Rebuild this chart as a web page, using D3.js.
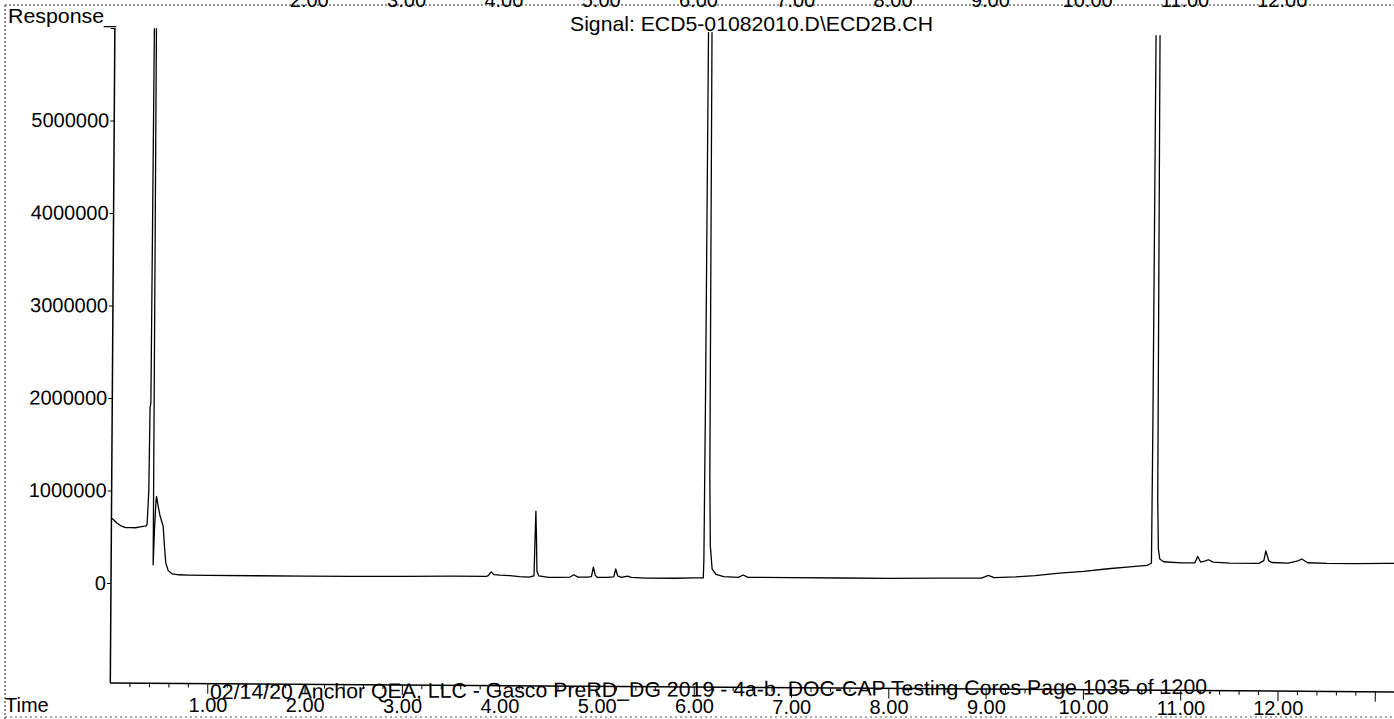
<!DOCTYPE html>
<html>
<head>
<meta charset="utf-8">
<script src="https://cdn.jsdelivr.net/npm/d3@7"></script>
<style>
  html, body { margin: 0; padding: 0; background: #fff; }
  svg { display: block; }
  text { font-family: "Liberation Sans", Arial, sans-serif; fill: #000; }
</style>
</head>
<body>
<script>
// ---- data ----
const timeMin = [
  0.005, 0.03, 0.06, 0.10, 0.15, 0.20, 0.25, 0.30, 0.36, 0.37, 0.385, 0.392, 0.40, 0.41, 0.43,
  0.435, 0.445, 0.46, 0.465, 0.48, 0.50, 0.52, 0.535, 0.55, 0.565, 0.59, 0.63, 0.70, 0.80,
  1.0, 1.5, 2.0, 2.5, 3.0, 3.5, 3.86, 3.88, 3.91, 3.94, 4.0, 4.1, 4.2, 4.3,
  4.35, 4.358, 4.365, 4.372, 4.38, 4.40, 4.5, 4.6, 4.72, 4.76, 4.80,
  4.9, 4.94, 4.96, 4.98, 5.0, 5.10, 5.17, 5.19, 5.21, 5.25, 5.31, 5.35,
  5.5, 5.8, 6.0, 6.09, 6.095, 6.10, 6.105, 6.14, 6.15, 6.16, 6.18, 6.22, 6.30,
  6.45, 6.50, 6.55, 7.0, 7.5, 8.0, 8.5, 8.95, 9.02, 9.08, 9.3, 9.5, 9.75,
  10.0, 10.25, 10.5, 10.65, 10.69, 10.695, 10.70, 10.705, 10.745, 10.755, 10.765, 10.78, 10.82,
  11.0, 11.14, 11.17, 11.20, 11.24, 11.28, 11.33, 11.5, 11.8, 11.85, 11.87, 11.90, 11.93,
  12.1, 12.2, 12.24, 12.3, 12.5, 12.8, 13.1, 13.19
];
const response = [
  700000, 680000, 650000, 620000, 600000, 600000, 600000, 610000, 620000, 640000, 1000000, 1900000, 1950000, 6300000, 6300000,
  200000, 550000, 900000, 940000, 850000, 740000, 670000, 620000, 400000, 220000, 140000, 105000, 95000, 92000,
  90000, 90000, 90000, 90000, 95000, 100000, 100000, 110000, 150000, 120000, 115000, 110000, 100000, 95000,
  110000, 500000, 810000, 550000, 160000, 110000, 95000, 95000, 100000, 125000, 100000,
  100000, 105000, 210000, 120000, 100000, 100000, 105000, 190000, 115000, 100000, 115000, 100000,
  95000, 95000, 100000, 100000, 300000, 2000000, 6300000, 6300000, 1200000, 450000, 200000, 140000, 115000,
  110000, 135000, 110000, 110000, 110000, 110000, 115000, 120000, 150000, 125000, 135000, 150000, 180000,
  200000, 230000, 255000, 270000, 290000, 300000, 1800000, 6300000, 6300000, 1000000, 450000, 340000, 310000,
  300000, 300000, 370000, 310000, 320000, 335000, 310000, 300000, 300000, 330000, 435000, 330000, 310000,
  305000, 330000, 350000, 310000, 305000, 305000, 310000, 310000
];
const yTickValues = [0, 1000000, 2000000, 3000000, 4000000, 5000000, 6000000];
const yTickLabels = ["0", "1000000", "2000000", "3000000", "4000000", "5000000", ""];
const xMajorTicks = [1, 2, 3, 4, 5, 6, 7, 8, 9, 10, 11, 12, 13];
const xLabelTimes = [1, 2, 3, 4, 5, 6, 7, 8, 9, 10, 11, 12];
const xTickLabels = ["1.00", "2.00", "3.00", "4.00", "5.00", "6.00", "7.00", "8.00", "9.00", "10.00", "11.00", "12.00"];
const topCutTimes = [2, 3, 4, 5, 6, 7, 8, 9, 10, 11, 12];
const topCutLabels = ["2.00", "3.00", "4.00", "5.00", "6.00", "7.00", "8.00", "9.00", "10.00", "11.00", "12.00"];
const titleText = "Signal: ECD5-01082010.D\\ECD2B.CH";
const yLabelText = "Response_";
const xLabelText = "Time";
const footerText = "02/14/20 Anchor QEA, LLC - Gasco PreRD_DG 2019 - 4a-b. DOC-CAP Testing Cores Page 1035 of 1200.";

// ---- drawing ----
const W = 1394, H = 719;
const svg = d3.select("body").append("svg").attr("width", W).attr("height", H);

const x = d3.scaleLinear().domain([0, 13.2]).range([110.7, 1395]);
const y = d3.scaleLinear().domain([-1080000, 6000000]).range([683, 28]);

// page frame remnants (dotted scan borders)
svg.append("line").attr("x1", 5).attr("x2", 1394).attr("y1", 5).attr("y2", 5)
  .attr("stroke", "#333").attr("stroke-width", 1.2).attr("stroke-dasharray", "2,2");
svg.append("line").attr("x1", 5).attr("x2", 5).attr("y1", 5).attr("y2", 719)
  .attr("stroke", "#444").attr("stroke-width", 1.2).attr("stroke-dasharray", "2,2");
svg.append("line").attr("x1", 5).attr("x2", 1394).attr("y1", 717).attr("y2", 717)
  .attr("stroke", "#555").attr("stroke-width", 1).attr("stroke-dasharray", "2,3");

// cut-off tick labels of the previous panel at the very top (partly above the page edge, as scanned)
svg.append("g").selectAll("text").data(topCutTimes).join("text")
  .attr("x", (d) => x(d) + 4).attr("y", 7)
  .attr("text-anchor", "middle").attr("font-size", 20)
  .text((d, i) => topCutLabels[i]);

const g = svg.append("g").attr("transform", "rotate(0.4,111,583)");

g.append("clipPath").attr("id", "plotclip").append("rect")
  .attr("x", 111).attr("y", 28).attr("width", 1300).attr("height", 655);

// trace
const pts = timeMin.map((t, i) => [t, response[i]]);
g.append("path").datum(pts)
  .attr("clip-path", "url(#plotclip)")
  .attr("fill", "none").attr("stroke", "#000").attr("stroke-width", 1.3)
  .attr("stroke-linejoin", "round")
  .attr("d", d3.line().x((d) => x(d[0])).y((d) => y(d[1])));

// y axis
const yAxis = g.append("g").attr("transform", "translate(111,0)")
  .call(d3.axisLeft(y).tickValues(yTickValues).tickSize(4).tickPadding(1)
    .tickFormat((d, i) => yTickLabels[i]));
yAxis.select(".domain").attr("stroke", "#000").attr("stroke-width", 1.5)
  .attr("d", "M0," + y.range()[1] + "V" + y.range()[0]);
yAxis.selectAll("text").attr("font-size", 20).attr("font-family", "Liberation Sans, Arial, sans-serif");

// x axis: minor then major tick marks (labels drawn below, unrotated)
const xMinor = d3.range(1, 66).map((k) => k * 0.2).filter((v) => Math.abs(v - Math.round(v)) > 1e-6);
const xAxisMinor = g.append("g").attr("transform", "translate(0,683)")
  .call(d3.axisBottom(x).tickValues(xMinor).tickSize(4).tickFormat(""));
xAxisMinor.select(".domain").remove();
xAxisMinor.selectAll("line").attr("stroke-width", 1);

const xAxis = g.append("g").attr("transform", "translate(0,683)")
  .call(d3.axisBottom(x).tickValues(xMajorTicks).tickSize(10).tickFormat(""));
xAxis.select(".domain").attr("stroke", "#000").attr("stroke-width", 1.5)
  .attr("d", "M" + x.range()[0] + ",0H" + W * 1.02);

svg.append("g").selectAll("text").data(xLabelTimes).join("text")
  .attr("x", (d) => x(d)).attr("y", (d) => 712 + (x(d) - 111) * 0.0025)
  .attr("text-anchor", "middle").attr("font-size", 20)
  .text((d, i) => xTickLabels[i]);

// titles & labels
svg.append("text").attr("x", 8).attr("y", 23).attr("font-size", 20)
  .attr("textLength", 108).attr("lengthAdjust", "spacingAndGlyphs").text(yLabelText);
svg.append("text").attr("x", 570).attr("y", 31).attr("font-size", 21)
  .attr("textLength", 363).attr("lengthAdjust", "spacingAndGlyphs").text(titleText);
svg.append("text").attr("x", 5).attr("y", 712).attr("font-size", 20).text(xLabelText);

// footer stamp overlapping the axis
svg.append("text").attr("x", 210).attr("y", 699).attr("font-size", 21)
  .attr("transform", "rotate(-0.3,210,699)")
  .attr("textLength", 1003).attr("lengthAdjust", "spacingAndGlyphs").text(footerText);
</script>
</body>
</html>
